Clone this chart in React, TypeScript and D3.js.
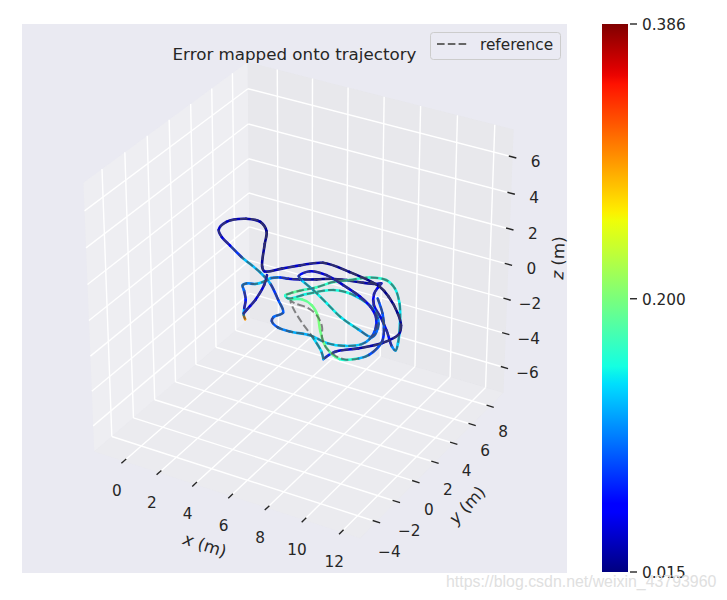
import React from "react";
import * as d3 from "d3";

// ejes (m)
const xTicks = [0, 2, 4, 6, 8, 10, 12];
const yTicks = [-4, -2, 0, 2, 4, 6, 8];
const zTicks = [-6, -4, -2, 0, 2, 4, 6];
const xLim: [number, number] = [-1.7, 13.0];
const yLim: [number, number] = [-5.6, 9.5];
const zLim: [number, number] = [-7.5, 7.5];
const cbarTicks = [0.015, 0.2, 0.386];

// tramo principal de la trayectoria
const mainX = [3.76, 3.48, 3.18, 2.83, 3.18, 2.86, 2.94, 3.32, 3.55, 3.68, 4.04, 4.44, 4.96, 5.65, 6.24, 6.93, 7.75, 8.36, 8.54, 8.59, 8.73, 9.23, 10.04, 10.91, 11.81, 12.12, 11.9, 11.14, 10.21, 9.33, 8.58, 7.77, 7.06, 6.47, 6.03, 5.5, 5.22, 5.13, 5.39, 5.94, 6.85, 7.92, 9.47, 10.27, 10.6, 9.66, 8.41, 7.22, 6.02, 5.06, 4.75, 4.98, 5.86, 7.03, 8.28, 9.17, 9.89, 10.37, 10.57, 10.48, 9.87, 9.05, 8.01, 7.0, 6.33, 5.79, 5.67, 5.85, 5.05, 3.91, 2.9, 2.28, 1.23, 0.43, -0.08, -0.17, 0.5, 1.28, 2.03, 2.6, 3.63, 3.07, 3.67, 4.27, 5.11, 6.67, 8.63, 9.45, 10.6, 11.26, 11.55, 11.26, 10.53, 9.73, 9.6];
const mainY = [-0.26, 0.07, 0.64, 1.38, 0.64, 1.05, 1.33, 1.48, 1.88, 2.37, 2.66, 2.75, 2.98, 3.39, 3.82, 4.07, 4.25, 4.47, 4.65, 4.23, 3.55, 2.6, 1.75, 0.75, -0.42, -0.65, 0.01, 1.65, 3.37, 4.55, 5.06, 4.87, 4.15, 3.57, 2.71, 2.01, 1.54, 1.23, 1.07, 1.89, 2.89, 2.96, 2.17, 1.13, -0.11, 0.2, 0.78, 1.59, 2.4, 2.96, 3.23, 3.94, 4.01, 3.56, 2.98, 2.37, 1.59, 0.63, -0.28, -0.94, -1.49, -1.68, -1.46, -1.64, -1.59, -1.22, -0.84, -0.24, 0.69, 1.9, 2.63, 1.95, 2.65, 3.2, 3.77, 4.66, 5.44, 5.52, 4.83, 3.66, 1.62, 2.8, 3.47, 4.2, 5.0, 4.86, 4.32, 3.68, 2.46, 1.53, 0.76, -0.36, -1.36, -2.22, -3.05];
const mainZ = [-1, -1, -1, -1, 0, 0, 0, 0, 0, 0, 0, 0, 0, 0, 0, 0, 0, 0, 0, 0, 0, 0, 0, 0, 0, 0, 0, 0, 0, 0, 0, 0, 0, 0, 0, 0, 0, 0, 0, 0, 0, 0, 0, 0, 0, 0, 0, 0, 0, 0, 0, 0, 0, 0, 0, 0, 0, 0, 0, 0, 0, 0, 0, 0, 0, 0, 0, 0, 0, 0, 0, 1, 1, 1, 1, 1, 1, 1, 1, 1, 1, 0, 0, 0, 0, 0, 0, 0, 0, 0, 0, 0, 0, 0, 0];
const mainErr = [0.386, 0.2, 0.06, 0.06, 0.08, 0.12, 0.1, 0.12, 0.15, 0.13, 0.09, 0.06, 0.03, 0.025, 0.02, 0.025, 0.03, 0.03, 0.06, 0.06, 0.06, 0.05, 0.05, 0.04, 0.09, 0.13, 0.14, 0.14, 0.15, 0.15, 0.16, 0.16, 0.17, 0.17, 0.16, 0.18, 0.19, 0.17, 0.15, 0.15, 0.16, 0.15, 0.12, 0.1, 0.1, 0.14, 0.15, 0.15, 0.15, 0.13, 0.08, 0.05, 0.04, 0.04, 0.05, 0.06, 0.06, 0.08, 0.1, 0.13, 0.14, 0.14, 0.13, 0.12, 0.1, 0.09, 0.08, 0.12, 0.07, 0.09, 0.16, 0.1, 0.06, 0.04, 0.04, 0.04, 0.03, 0.03, 0.02, 0.02, 0.03, 0.03, 0.04, 0.04, 0.03, 0.02, 0.02, 0.02, 0.02, 0.025, 0.03, 0.03, 0.03, 0.05, 0.1];

// tramo verde, donde la trayectoria se separa de la referencia
const greenX = [5.5, 5.99, 6.67, 7.39, 8.21, 9.14, 10.25, 10.98, 11.24, 11.18, 10.67, 9.97, 9.08];
const greenY = [1.03, 1.32, 1.08, 0.37, -0.85, -2.0, -2.67, -2.16, -1.63, -0.22, 0.92, 2.09, 3.26];
const greenZ = [0, 0, 0, 0, 0, 0, 0, 0, 0, 0, 0, 0, 0];
const greenErr = [0.16, 0.19, 0.19, 0.2, 0.2, 0.19, 0.18, 0.14, 0.11, 0.07, 0.08, 0.1, 0.08];

// cola inferior
const tailX = [9.6, 9.17, 8.11];
const tailY = [-3.05, -2.48, -1.48];
const tailZ = [0, 0, 0];
const tailErr = [0.12, 0.14, 0.14];

// referencia en la zona donde no coincide con la trayectoria
const refLoopX = [9.6, 9.17, 8.11, 7.06, 6.07, 5.59, 5.9, 6.58, 7.36, 8.09, 8.6, 9.26, 9.99, 10.48, 10.98, 11.24, 11.18, 10.67, 9.97, 9.08];
const refLoopY = [-3.05, -2.48, -1.48, -0.59, 0.35, 0.93, 0.81, 0.76, 0.35, -0.46, -1.37, -2.12, -2.52, -2.57, -2.16, -1.63, -0.22, 0.92, 2.09, 3.26];
const refLoopZ = [0, 0, 0, 0, 0, 0, 0, 0, 0, 0, 0, 0, 0, 0, 0, 0, 0, 0, 0, 0];

// diagonal corta junto al inicio
const legX = [3.4, 3.31, 3.23, 3.74, 3.37];
const legY = [0.21, 0.99, 1.62, 1.61, 2.53];
const legZ = [-1, -1, -1, 0, 0];
const legErr = [0.05, 0.05, 0.05, 0.04, 0.04];

const width = 727;
const height = 600;
const axesBox = { left: 22, top: 24, right: 567, bottom: 573 };
const cbar = { left: 602, right: 628, top: 24, bottom: 572 };
const textColor = "#262626";
const font = "'DejaVu Sans', sans-serif";

// camara como la de mplot3d: azim -60, elev 30, dist 10
const azim = (-60 * Math.PI) / 180;
const elev = (30 * Math.PI) / 180;
const dist = 10;
const nv = [Math.cos(elev) * Math.cos(azim), Math.cos(elev) * Math.sin(azim), Math.sin(elev)];
const uv = [-Math.sin(azim), Math.cos(azim), 0];
const vv = [nv[1] * uv[2] - nv[2] * uv[1], nv[2] * uv[0] - nv[0] * uv[2], nv[0] * uv[1] - nv[1] * uv[0]];

const sx = d3.scaleLinear().domain(xLim).range([-0.5, 0.5]);
const sy = d3.scaleLinear().domain(yLim).range([-0.5, 0.5]);
const sz = d3.scaleLinear().domain(zLim).range([-0.5, 0.5]);
const screenX = d3.scaleLinear().domain([-1, 1]).range([302 - 307, 302 + 307]);
const screenY = d3.scaleLinear().domain([-1, 1]).range([292 + 307, 292 - 307]);

type P = [number, number];
const dot = (a: number[], b: number[]) => a[0] * b[0] + a[1] * b[1] + a[2] * b[2];
const project = (x: number, y: number, z: number): P => {
  const p = [sx(x), sy(y), sz(z)];
  const w = (dist - dot(p, nv)) / dist;
  return [screenX(dot(p, uv) / w), screenY(dot(p, vv) / w)];
};

// jet de matplotlib
const jetR = d3.scaleLinear().domain([0, 0.35, 0.66, 0.89, 1]).range([0, 0, 1, 1, 0.5]);
const jetG = d3.scaleLinear().domain([0, 0.125, 0.375, 0.64, 0.91, 1]).range([0, 0, 1, 1, 0, 0]);
const jetB = d3.scaleLinear().domain([0, 0.11, 0.34, 0.65, 1]).range([0.5, 1, 1, 0, 0]);
const jet = (t: number) =>
  d3.rgb(jetR(t) * 255, jetG(t) * 255, jetB(t) * 255).formatHex();
const errNorm = d3.scaleLinear().domain([0.015, 0.386]).range([0, 1]).clamp(true);
const cbarY = d3.scaleLinear().domain([0.015, 0.386]).range([cbar.bottom, cbar.top]);

const curve = d3.line<P>().curve(d3.curveCatmullRomOpen);
const smooth = d3.line<P>().curve(d3.curveCatmullRom);
const seg = (a: P, b: P) => d3.line<P>()([a, b]) ?? "";
const tickFmt = (t: number) => d3.format("d")(t).replace("-", "\u2212");

const toPoints = (xs: number[], ys: number[], zs: number[]) =>
  xs.map((x, i) => project(x, ys[i], zs[i]));

const Strand = ({ pts, err }: { pts: P[]; err: number[] }) => (
  <g fill="none" strokeWidth={2.6} strokeLinecap="round">
    {pts.slice(0, -1).map((p, i) => (
      <path
        key={i}
        d={curve([pts[Math.max(i - 1, 0)], p, pts[i + 1], pts[Math.min(i + 2, pts.length - 1)]]) ?? ""}
        stroke={jet(errNorm((err[i] + err[i + 1]) / 2))}
      />
    ))}
  </g>
);

export default function App() {
  const main = toPoints(mainX, mainY, mainZ);
  const green = toPoints(greenX, greenY, greenZ);
  const tail = toPoints(tailX, tailY, tailZ);
  const leg = toPoints(legX, legY, legZ);
  const refLoop = toPoints(refLoopX, refLoopY, refLoopZ);

  const [x0, x1] = xLim;
  const [y0, y1] = yLim;
  const [z0, z1] = zLim;
  const poly = (c: P[]) => d3.line<P>()(c)! + "Z";

  const grid = [
    ...xTicks.flatMap((t) => [
      seg(project(t, y0, z0), project(t, y1, z0)),
      seg(project(t, y1, z0), project(t, y1, z1)),
    ]),
    ...yTicks.flatMap((t) => [
      seg(project(x0, t, z0), project(x1, t, z0)),
      seg(project(x0, t, z0), project(x0, t, z1)),
    ]),
    ...zTicks.flatMap((t) => [
      seg(project(x0, y0, t), project(x0, y1, t)),
      seg(project(x0, y1, t), project(x1, y1, t)),
    ]),
  ];

  const refStyle = {
    fill: "none",
    stroke: "#4A4A4A",
    strokeOpacity: 0.65,
    strokeWidth: 2,
    strokeDasharray: "7.6 3.2",
  };

  return (
    <svg
      width={width}
      height={height}
      viewBox={`0 0 ${width} ${height}`}
      style={{ position: "absolute", left: 0, top: 0, fontFamily: font }}
    >
      <defs>
        <linearGradient id="jet" x1="0" y1="1" x2="0" y2="0">
          {d3.range(0, 65).map((i) => (
            <stop key={i} offset={i / 64} stopColor={jet(i / 64)} />
          ))}
        </linearGradient>
      </defs>

      <rect
        x={axesBox.left}
        y={axesBox.top}
        width={axesBox.right - axesBox.left}
        height={axesBox.bottom - axesBox.top}
        fill="#EAEAF2"
      />

      {/* Paredes */}
      <path
        d={poly([project(x0, y0, z0), project(x0, y1, z0), project(x0, y1, z1), project(x0, y0, z1)])}
        fill="#F2F2F2"
        fillOpacity={0.5}
      />
      <path
        d={poly([project(x0, y1, z0), project(x1, y1, z0), project(x1, y1, z1), project(x0, y1, z1)])}
        fill="#E6E6E6"
        fillOpacity={0.5}
      />
      <path
        d={poly([project(x0, y0, z0), project(x1, y0, z0), project(x1, y1, z0), project(x0, y1, z0)])}
        fill="#ECECEC"
        fillOpacity={0.5}
      />

      {/* Rejilla */}
      <g stroke="#FFFFFF" strokeWidth={1.4} fill="none">
        {grid.map((d, i) => (
          <path key={i} d={d} />
        ))}
      </g>

      {/* Marcas y etiquetas de los ejes */}
      <g stroke={textColor} strokeWidth={1.4}>
        {xTicks.map((t) => (
          <path key={t} d={seg(project(t, y0 - 0.22, z0), project(t, y0 + 0.22, z0))} />
        ))}
        {yTicks.map((t) => (
          <path key={t} d={seg(project(x1 - 0.2, t, z0), project(x1 + 0.2, t, z0))} />
        ))}
        {zTicks.map((t) => (
          <path key={t} d={seg(project(x1 - 0.2, y1, t), project(x1 + 0.2, y1, t))} />
        ))}
      </g>
      <g fill={textColor} fontSize={15.3} textAnchor="middle" dominantBaseline="central">
        {xTicks.map((t) => {
          const [px, py] = project(t, y0, z0);
          return (
            <text key={t} x={px - 7} y={py + 30}>
              {tickFmt(t)}
            </text>
          );
        })}
        {yTicks.map((t) => {
          const [px, py] = project(x1, t, z0);
          return (
            <text key={t} x={px + 13} y={py + 26 + (8 - t) / 3}>
              {tickFmt(t)}
            </text>
          );
        })}
        {zTicks.map((t) => {
          const [px, py] = project(x1, y1, t);
          return (
            <text key={t} x={px + 23} y={py + 5}>
              {tickFmt(t)}
            </text>
          );
        })}
      </g>

      <g fill={textColor} fontSize={16.7} textAnchor="middle" dominantBaseline="central">
        <text transform="translate(205,545) rotate(18)">
          <tspan fontStyle="italic">x</tspan> (m)
        </text>
        <text transform="translate(467,505) rotate(-47)">
          <tspan fontStyle="italic">y</tspan> (m)
        </text>
        <text transform="translate(558,258) rotate(-88)">
          <tspan fontStyle="italic">z</tspan> (m)
        </text>
      </g>

      {/* Trayectoria y referencia */}
      <Strand pts={main} err={mainErr} />
      <Strand pts={green} err={greenErr} />
      <Strand pts={tail} err={tailErr} />
      <Strand pts={leg} err={legErr} />
      <path d={smooth(main) ?? ""} {...refStyle} />
      <path d={smooth(refLoop) ?? ""} {...refStyle} />
      <path d={smooth(leg) ?? ""} {...refStyle} />

      <text x={294.5} y={60} fontSize={16.7} fill={textColor} textAnchor="middle">
        Error mapped onto trajectory
      </text>

      {/* Leyenda */}
      <rect x={430.5} y={32.5} width={130} height={27} rx={3} fill="#EAEAF2" fillOpacity={0.8} stroke="#CCCCCC" />
      <line x1={437} x2={467} y1={44} y2={44} stroke="#666666" strokeWidth={2} strokeDasharray="7.6 3.2" />
      <text x={480} y={50} fontSize={15.3} fill={textColor}>
        reference
      </text>

      {/* Barra de color */}
      <rect
        x={cbar.left}
        y={cbar.top}
        width={cbar.right - cbar.left}
        height={cbar.bottom - cbar.top}
        fill="url(#jet)"
      />
      {cbarTicks.map((t) => (
        <g key={t}>
          <line x1={630} x2={637} y1={cbarY(t)} y2={cbarY(t)} stroke={textColor} strokeWidth={1.4} />
          <text x={642} y={cbarY(t) + 1} fontSize={15.3} fill={textColor} dominantBaseline="central">
            {d3.format(".3f")(t)}
          </text>
        </g>
      ))}

      <text x={446} y={587} fontSize={15.9} fill="#E0E0E0" fontFamily="'Liberation Sans', sans-serif">
        https://blog.csdn.net/weixin_43793960
      </text>
    </svg>
  );
}
